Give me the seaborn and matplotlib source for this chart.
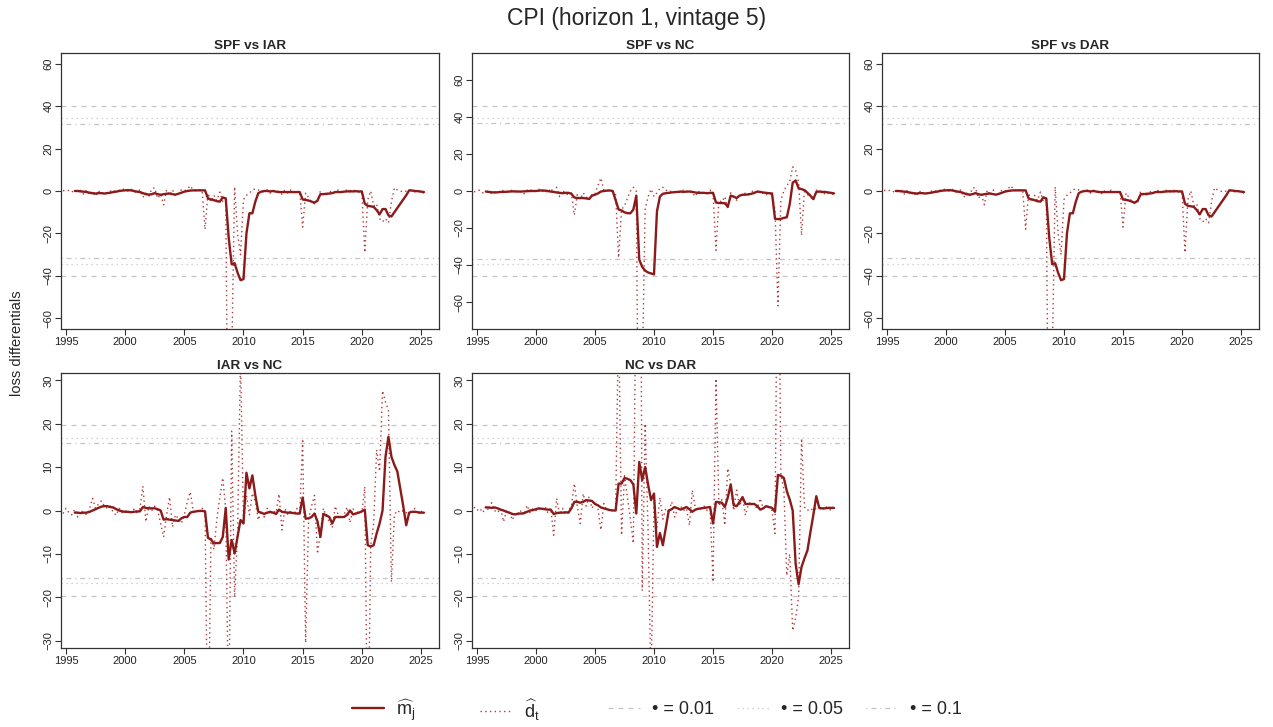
import numpy as np
import pandas as pd
import matplotlib
matplotlib.use("Agg")
import matplotlib.pyplot as plt
import seaborn as sns
from matplotlib.lines import Line2D

sns.set_theme(style="white")
plt.rcParams["font.family"] = ["Liberation Sans", "DejaVu Sans"]
plt.rcParams["mathtext.fontset"] = "custom"
plt.rcParams["mathtext.rm"] = "Liberation Sans"
plt.rcParams["mathtext.it"] = "Liberation Sans:italic"
plt.rcParams["mathtext.bf"] = "Liberation Sans:bold"

nan = np.nan

# quarterly dates 1994Q4 .. 2025Q2
quarters = pd.period_range("1994Q4", "2025Q2", freq="Q")
dates = np.asarray(quarters.year + (quarters.quarter - 1) / 4.0, dtype=float)

# ---------------- SPF vs IAR ----------------
m_spf_iar = [nan,
    nan, nan, nan, 0.0,
    0.0, -0.2, -0.3, -0.5,
    -0.8, -1.0, -1.2, -1.0,
    -1.0, -1.2, -1.0, -0.8,
    -0.5, -0.3, 0.0, 0.2,
    0.3, 0.4, 0.3, 0.0,
    -0.3, -0.5, -1.0, -1.5,
    -1.7, -1.5, -1.0, -1.5,
    -1.8, -1.5, -1.3, -1.2,
    -1.5, -1.7, -1.3, -0.8,
    -0.3, 0.0, 0.2, 0.3,
    0.3, 0.3, 0.3, 0.3,
    -3.5, -4.0, -4.3, -4.8,
    -5.0, -3.0, -3.5, -22.0,
    -34.5, -34.0, -38.5, -42.0,
    -41.5, -20.0, -10.5, -10.5,
    -5.0, -1.0, -0.3, 0.0,
    0.0, -0.2, 0.0, -0.3,
    -0.5, -0.5, -0.5, -0.5,
    -0.5, -0.5, -0.5, -0.5,
    -4.0, -4.2, -4.5, -5.0,
    -5.5, -4.5, -1.5, -1.5,
    -1.3, -1.2, -1.0, -0.5,
    -0.5, -0.5, -0.3, -0.2,
    -0.1, -0.2, -0.1, -0.2,
    -0.2, -6.0, -7.0, -7.2,
    -7.5, -9.0, -11.0, -8.5,
    -8.5, -11.5, -12.0, -10.0,
    -8.0, -6.0, -4.0, -2.0,
    0.3, 0.2, 0.0, -0.1,
    -0.3, -0.5]
d_spf_iar = [0.2,
    0.0, 0.3, -0.5, 0.5,
    -0.5, 0.3, -1.5, 0.5,
    -2.0, -0.5, -2.5, 0.0,
    -1.5, -0.5, -1.0, 0.0,
    -0.5, 0.5, 0.3, 1.0,
    0.5, 0.0, 1.0, -0.5,
    -0.5, 0.5, -3.0, -1.0,
    -2.5, 1.0, 1.5, -3.5,
    -1.5, -6.5, 0.5, -2.0,
    0.5, -2.5, -1.0, 0.5,
    0.0, 1.0, 2.5, 0.5,
    0.0, 0.5, 0.3, -18.0,
    -1.0, -5.0, -2.0, -4.5,
    -0.5, -5.0, -3.0, -170.0,
    -80.0, 2.0, -20.0, -30.0,
    -4.0, -2.0, -1.0, 0.5,
    1.0, 0.5, 0.0, -0.5,
    0.5, -1.0, 0.3, -0.5,
    0.0, -1.5, 0.5, -1.0,
    0.5, -0.5, -1.0, 0.0,
    -17.0, -1.0, -3.0, -5.0,
    -6.0, -5.0, 0.0, -1.5,
    -2.0, -0.5, 0.0, -1.0,
    0.5, -0.5, 0.0, 0.5,
    -0.5, 0.5, 0.0, -0.5,
    -0.5, -29.0, -4.0, 0.0,
    -7.0, -6.0, -13.0, -14.5,
    -13.0, -15.0, -5.0, 1.5,
    0.5, 0.0, -0.5, 0.0,
    0.5, 0.3, -0.5, 0.0,
    -0.5, -1.0]
crit_spf_iar = [40.0, 34.3, 31.7]

# ---------------- SPF vs NC ----------------
m_spf_nc = [nan,
    nan, nan, nan, -0.3,
    -0.5, -0.7, -0.8, -0.7,
    -0.5, -0.5, -0.4, -0.3,
    -0.2, -0.2, -0.3, -0.3,
    -0.2, -0.1, 0.0, 0.0,
    0.0, 0.2, 0.3, 0.2,
    0.0, -0.3, -0.5, -0.8,
    -1.0, -1.2, -1.0, -1.0,
    -1.5, -3.5, -3.8, -3.8,
    -3.8, -4.0, -4.3, -2.5,
    -2.0, -1.3, -0.3, 0.0,
    0.2, 0.3, 0.0, -5.0,
    -10.0, -10.5, -11.5, -12.0,
    -12.0, -10.0, -2.5, -37.0,
    -41.0, -43.0, -44.0, -44.5,
    -45.0, -11.0, -3.0, -1.5,
    -1.2, -1.0, -0.8, -0.6,
    -0.5, -0.3, -0.5, -0.3,
    -0.3, -0.5, -0.8, -1.0,
    -1.0, -1.0, -1.2, -1.0,
    -1.0, -6.2, -6.5, -6.5,
    -6.6, -8.4, -2.5, -3.0,
    -3.8, -2.5, -2.0, -2.0,
    -1.8, -1.5, -1.0, -0.3,
    -0.5, -0.8, -1.0, -1.2,
    -1.3, -15.0, -15.2, -15.0,
    -14.5, -14.2, -7.0, 4.5,
    5.7, 1.5, 1.0, 0.5,
    -1.0, -2.5, -4.4, -0.5,
    -0.3, -0.5, -0.5, -0.8,
    -1.0, -1.3]
d_spf_nc = [-0.5,
    0.0, 0.5, -1.0, -0.5,
    0.0, -1.5, -0.5, 0.0,
    -1.0, 0.5, -0.5, 0.0,
    0.5, -0.5, 0.0, -0.5,
    -1.5, 0.5, 1.0, -0.5,
    0.5, 1.0, -0.5, 0.5,
    -1.0, 1.5, -1.0, 2.0,
    -3.0, 0.5, -1.5, -2.0,
    -1.0, -13.0, -2.0, -4.5,
    -1.0, -3.0, -5.0, -1.5,
    -1.5, 3.0, 7.0, 0.5,
    0.0, 0.5, -0.5, -2.0,
    -36.0, -10.0, -8.0, -4.0,
    0.0, 2.0, 0.0, -200.0,
    -100.0, -10.0, -3.0, 1.0,
    -3.0, -1.0, 1.5, 2.0,
    0.5, -0.5, 0.0, -0.5,
    0.0, -1.0, 0.5, -0.5,
    0.5, -1.0, -3.0, 0.0,
    -1.5, -0.5, -1.0, 0.5,
    -1.0, -32.0, -5.0, -6.0,
    -3.0, -10.0, -1.0, -3.5,
    -5.0, -1.5, -2.5, -1.0,
    -2.0, -0.5, 0.5, -1.5,
    0.0, -1.5, -2.0, -1.0,
    -2.0, -10.0, -62.0, -5.0,
    0.0, 3.0, 5.0, 13.0,
    11.0, 5.0, -24.0, 1.0,
    -2.0, -3.0, -5.0, 0.5,
    -0.5, 0.0, -2.0, -1.0,
    -1.5, -2.0]
crit_spf_nc = [46.0, 39.5, 36.5]

# ---------------- SPF vs DAR ----------------
m_spf_dar = [nan,
    nan, nan, nan, 0.0,
    0.0, -0.2, -0.3, -0.5,
    -0.8, -1.0, -1.2, -1.0,
    -1.0, -1.2, -1.0, -0.8,
    -0.5, -0.3, 0.0, 0.2,
    0.3, 0.4, 0.3, 0.0,
    -0.3, -0.5, -1.0, -1.5,
    -1.7, -1.5, -1.0, -1.5,
    -1.8, -1.5, -1.3, -1.2,
    -1.5, -1.7, -1.3, -0.8,
    -0.3, 0.0, 0.2, 0.3,
    0.3, 0.3, 0.3, 0.3,
    -3.5, -4.0, -4.3, -4.8,
    -5.0, -3.0, -3.5, -22.0,
    -34.5, -34.0, -38.5, -42.0,
    -41.5, -20.0, -10.5, -10.5,
    -5.0, -1.0, -0.3, 0.0,
    0.0, -0.2, 0.0, -0.3,
    -0.5, -0.5, -0.5, -0.5,
    -0.5, -0.5, -0.5, -0.5,
    -4.0, -4.2, -4.5, -5.0,
    -5.5, -4.5, -1.5, -1.5,
    -1.3, -1.2, -1.0, -0.5,
    -0.5, -0.5, -0.3, -0.2,
    -0.1, -0.2, -0.1, -0.2,
    -0.2, -6.0, -7.0, -7.2,
    -7.5, -9.0, -11.0, -8.5,
    -8.5, -11.5, -12.0, -10.0,
    -8.0, -6.0, -4.0, -2.0,
    0.3, 0.2, 0.0, -0.1,
    -0.3, -0.5]
d_spf_dar = [0.3,
    0.0, 0.3, -0.5, 0.5,
    -0.5, 0.3, -1.5, 0.5,
    -2.0, -0.5, -2.5, 0.0,
    -1.5, -0.5, -1.0, 0.0,
    -0.5, 0.5, 0.3, 1.0,
    0.5, 0.0, 1.0, -0.5,
    -0.5, 0.5, -3.0, -1.0,
    -2.5, 1.5, 1.5, -3.5,
    -1.5, -6.5, 0.5, -2.0,
    0.5, -2.5, -1.0, 0.5,
    0.0, 1.0, 2.5, 0.5,
    0.0, 0.5, 0.3, -18.0,
    -1.0, -5.0, -2.0, -4.5,
    -0.5, -5.0, -3.0, -170.0,
    -80.0, 2.0, -20.0, -30.0,
    -4.0, -2.0, -1.0, 0.5,
    1.0, 0.5, 0.0, -0.5,
    0.5, -1.0, 0.3, -0.5,
    0.0, -1.5, 0.5, -1.0,
    0.5, -0.5, -1.0, 0.0,
    -17.0, -1.0, -3.0, -5.0,
    -6.0, -5.0, 0.0, -1.5,
    -2.0, -0.5, 0.0, -1.0,
    0.5, -0.5, 0.0, 0.5,
    -0.5, 0.5, 0.0, -0.5,
    -0.5, -29.0, -4.0, 0.0,
    -7.0, -6.0, -13.0, -14.5,
    -13.0, -15.0, -5.0, 1.5,
    0.5, 0.0, -0.5, 0.0,
    0.5, 0.3, -0.5, 0.0,
    -0.5, -1.0]
crit_spf_dar = [40.0, 34.3, 31.7]

# ---------------- IAR vs NC ----------------
m_iar_nc = [nan,
    nan, nan, nan, -0.5,
    -0.5, -0.6, -0.5, -0.5,
    -0.3, 0.0, 0.3, 0.6,
    0.9, 1.0, 1.0, 0.8,
    0.7, 0.3, 0.0, -0.2,
    -0.3, -0.3, -0.4, -0.3,
    -0.2, -0.2, 0.8, 0.6,
    0.5, 0.5, 0.5, 0.3,
    0.0, -2.1, -2.0, -2.1,
    -2.2, -2.3, -2.4, -1.8,
    -1.5, -1.5, -0.5, -0.3,
    -0.2, -0.1, -0.1, -0.2,
    -6.3, -6.7, -7.6, -7.5,
    -7.5, -6.1, 0.6, -11.3,
    -6.8, -9.9, -6.0, -2.2,
    -3.0, 8.7, 5.1, 8.1,
    3.5, -0.3, -0.5, -0.8,
    -0.5, -0.3, -0.5, -0.8,
    0.2, -0.3, -0.4, -0.5,
    -0.5, -0.6, -0.7, -0.7,
    3.0, -1.9, -1.8, -1.5,
    -0.7, -2.5, -6.1, -0.8,
    -1.1, -1.5, -3.0, -1.5,
    -1.5, -1.5, -1.5, -1.0,
    0.0, -0.9, -0.7, -0.5,
    -0.2, 0.2, -8.0, -8.3,
    -8.0, -5.3, -3.0, 0.0,
    12.4, 17.0, 12.4, 10.5,
    9.0, 5.0, 1.0, -3.4,
    -0.5, -0.3, -0.3, -0.4,
    -0.5, -0.5]
d_iar_nc = [-0.7,
    0.5, -0.5, -1.0, 0.3,
    -1.5, 0.0, -0.5, -1.0,
    0.5, 2.8, 0.5, 1.5,
    2.2, 1.0, 0.5, 1.0,
    -0.5, -1.1, 0.5, -0.5,
    0.0, -0.5, -0.3, 0.3,
    -0.5, 0.5, 5.6, -2.6,
    1.0, 0.0, 1.0, 0.0,
    -3.0, -6.1, -1.0, 3.1,
    -3.8, -1.0, -1.9, -3.0,
    -1.0, 2.0, 4.3, 0.0,
    -0.5, 0.0, 0.5, 0.0,
    -60.0, -6.0, -9.0, -2.0,
    3.0, 7.5, 0.0, -50.0,
    18.3, -20.0, -5.0, 35.0,
    -3.0, 3.5, -1.0, 4.0,
    2.0, -2.2, 0.0, -1.5,
    0.5, -1.0, 0.0, -0.5,
    3.8, -4.5, 0.5, -1.0,
    0.0, -1.0, 0.5, -1.0,
    16.5, -30.5, -2.0, 1.0,
    3.5, -10.0, -5.0, 0.5,
    -1.5, -2.5, -4.0, 1.0,
    -1.0, -2.0, -1.0, 0.8,
    -2.8, 0.5, -1.0, 0.0,
    -0.5, 5.5, -60.0, -8.0,
    -3.0, 14.0, 9.0, 27.6,
    25.0, 23.0, -16.5, -1.0,
    0.0, -0.5, 0.0, -0.5,
    -0.5, 0.0, 0.5, -1.0,
    0.0, -1.0]
crit_iar_nc = [19.6, 16.8, 15.5]

# ---------------- NC vs DAR ----------------
m_nc_dar = [nan,
    nan, nan, nan, 0.7,
    0.7, 0.6, 0.7, 0.5,
    0.2, 0.0, -0.3, -0.5,
    -0.8, -0.9, -0.7, -0.7,
    -0.6, -0.3, 0.0, 0.1,
    0.3, 0.5, 0.4, 0.3,
    0.2, 0.2, -0.8, -0.6,
    -0.5, -0.5, -0.4, -0.5,
    0.5, 2.0, 2.0, 1.8,
    2.0, 2.4, 2.3, 2.2,
    1.5, 1.2, 0.7, 0.5,
    0.3, 0.1, 0.0, 0.0,
    6.2, 6.2, 7.5, 7.3,
    7.0, 6.0, -0.7, 11.2,
    7.0, 10.0, 6.0, 2.4,
    3.9, -8.4, -5.2, -8.0,
    -4.0, 0.0, 0.3, 0.8,
    0.5, 0.2, 0.5, 0.8,
    0.3, -0.3, 0.2, 0.4,
    0.5, 0.6, 0.7, 0.8,
    -3.0, 2.0, 1.9, 1.8,
    0.8, 3.0, 6.0, 1.2,
    1.0, 2.0, 3.1, 1.5,
    1.5, 1.5, 1.5, 1.0,
    0.2, 0.5, 1.0, 0.8,
    0.6, -0.3, 8.2, 8.0,
    7.5, 4.5, 2.5, 0.0,
    -12.3, -17.0, -13.0, -11.0,
    -9.2, -5.0, -1.0, 3.3,
    0.6, 0.5, 0.5, 0.6,
    0.6, 0.6]
d_nc_dar = [0.8,
    0.0, 0.5, -0.5, 1.0,
    0.0, 1.8, 0.0, -0.5,
    0.5, -2.6, 0.0, -0.5,
    -2.2, -0.5, -1.0, 0.0,
    -1.0, 1.2, -0.5, 0.5,
    0.0, 0.5, 0.0, 1.0,
    -0.5, 0.5, -5.7, 2.8,
    -1.0, 0.5, -1.0, 0.0,
    1.0, 6.2, 1.0, -3.0,
    3.9, 1.0, 3.2, 0.5,
    2.0, 0.5, -4.5, 1.6,
    0.0, 0.5, 0.0, 0.5,
    45.0, -5.7, 8.0, 3.0,
    -2.0, -7.6, 60.0, 150.0,
    -18.5, 20.0, -5.0, -40.0,
    2.0, -4.0, 3.0, -2.0,
    0.5, -0.5, 2.0, -1.5,
    0.5, 1.0, 0.0, 0.5,
    -3.4, 4.7, 0.5, 0.0,
    0.5, 1.0, 0.0, 0.5,
    -16.5, 30.4, 1.0, 2.5,
    -3.4, 9.7, 6.0, 0.0,
    4.7, 1.0, 3.0, -1.1,
    1.5, 2.0, 1.0, 0.5,
    2.8, 0.5, 1.0, 0.5,
    0.0, -5.3, 80.0, 8.0,
    5.0, -15.0, -10.0, -27.7,
    -24.7, -20.0, 16.6, 0.8,
    0.0, 0.5, 0.0, 0.5,
    0.5, 0.0, 1.0, 0.5,
    0.0, 1.0]
crit_nc_dar = [19.6, 16.8, 15.5]

panel_titles = ["SPF vs IAR", "SPF vs NC", "SPF vs DAR", "IAR vs NC", "NC vs DAR"]
x_ticks = [1995, 2000, 2005, 2010, 2015, 2020, 2025]
sig_levels = [0.01, 0.05, 0.1]

DARK = "#8B1A1A"
DOT = "#B03A3A"
GRAY = "#C4C4C4"
FRAME = "#333333"
DOT_STYLE = (0, (1, 2.4))
crit_styles = [(0, (4, 4)), (0, (1, 3)), (0, (1, 3, 4, 3))]

W, H = 1273, 727
fig = plt.figure(figsize=(W / 100, H / 100), dpi=100)

def frac_box(l, t, r, b):
    return [l / W, 1 - b / H, (r - l) / W, (b - t) / H]

boxes = [frac_box(61, 53, 439, 329), frac_box(472, 53, 849, 329), frac_box(882, 53, 1259, 329),
         frac_box(61, 373, 439, 648), frac_box(472, 373, 849, 648)]
ylims = [65, 74.5, 65, 31.7, 31.7]
yticks = [range(-60, 61, 20), range(-60, 61, 20), range(-60, 61, 20), range(-30, 31, 10), range(-30, 31, 10)]
series = [(m_spf_iar, d_spf_iar, crit_spf_iar), (m_spf_nc, d_spf_nc, crit_spf_nc),
          (m_spf_dar, d_spf_dar, crit_spf_dar), (m_iar_nc, d_iar_nc, crit_iar_nc),
          (m_nc_dar, d_nc_dar, crit_nc_dar)]

for i, (box, title, (m, d, crit)) in enumerate(zip(boxes, panel_titles, series)):
    ax = fig.add_axes(box)
    for c, ls in zip(crit, crit_styles):
        ax.axhline(c, color=GRAY, lw=0.9, linestyle=ls, zorder=1)
        ax.axhline(-c, color=GRAY, lw=0.9, linestyle=ls, zorder=1)
    df = pd.DataFrame({"date": dates, "m": np.array(m, dtype=float), "d": np.array(d, dtype=float)})
    sns.lineplot(data=df, x="date", y="d", ax=ax, color=DOT, lw=1.0,
                 linestyle=DOT_STYLE, errorbar=None, sort=False, zorder=2)
    sns.lineplot(data=df.dropna(), x="date", y="m", ax=ax, color=DARK, lw=1.7,
                 errorbar=None, sort=False, zorder=3)
    ax.set_xlim(1994.58, 2026.52)
    ax.set_ylim(-ylims[i], ylims[i])
    ax.set_xticks(x_ticks)
    ax.set_yticks(list(yticks[i]))
    ax.set_xlabel("")
    ax.set_ylabel("")
    ax.set_title(title, fontsize=9.7, fontweight="bold", pad=3)
    ax.tick_params(axis="both", which="both", bottom=True, left=True, direction="out",
                   length=4, width=0.8, color=FRAME, labelsize=8, labelcolor="#222222", pad=1.5)
    for lbl in ax.get_yticklabels():
        lbl.set_rotation(90)
        lbl.set_va("center")
        lbl.set_ha("right")
    for s in ax.spines.values():
        s.set_visible(True)
        s.set_color(FRAME)
        s.set_linewidth(0.9)
    ax.grid(False)

fig.suptitle("CPI (horizon 1, vintage 5)", y=1 - 18 / H, fontsize=16.5, va="center")
fig.text(17 / W, 1 - 343 / H, "loss differentials", rotation=90, va="center", ha="center", fontsize=10.5)

handles = [Line2D([], [], color=DARK, lw=1.7),
           Line2D([], [], color=DOT, lw=1.0, linestyle=DOT_STYLE)]
handles += [Line2D([], [], color=GRAY, lw=0.9, linestyle=ls) for ls in crit_styles]
labels = [r"$\widehat{\mathrm{m}}_{\mathrm{j}}$", r"$\widehat{\mathrm{d}}_{\mathrm{t}}$"]
labels += ["\u2022 = %g" % s for s in sig_levels]
leg_x = [352, 480, 608, 737, 866]
for h, l, x in zip(handles, labels, leg_x):
    fig.legend(handles=[h], labels=[l], loc="center left", bbox_to_anchor=(x / W, 1 - 710 / H),
               frameon=False, fontsize=13, handlelength=1.75, handletextpad=0.7,
               borderpad=0, borderaxespad=0)

fig.savefig("out.png", dpi=100)
